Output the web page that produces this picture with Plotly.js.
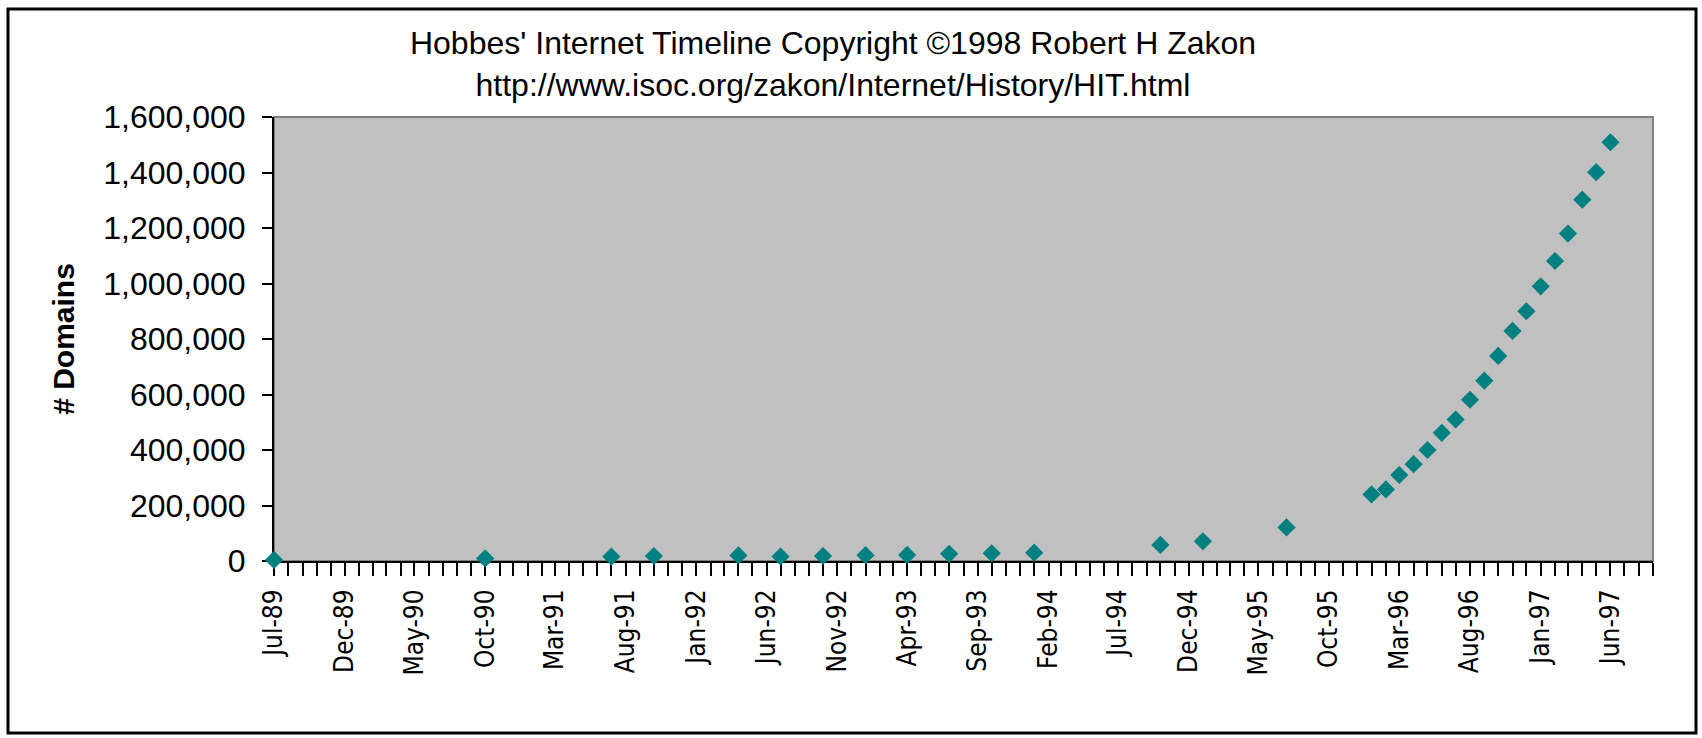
<!DOCTYPE html>
<html>
<head>
<meta charset="utf-8">
<script src="https://cdn.plot.ly/plotly-3.0.1.min.js"></script>
<style>
  html, body { margin: 0; padding: 0; background: #ffffff; }
  #chart { width: 1702px; height: 738px; }
</style>
</head>
<body>
<div id="chart"></div>
<script>
// ---- data ----
const months = [
  '1989-07-01', '1990-10-01', '1991-07-01', '1991-10-01', '1992-04-01',
  '1992-07-01', '1992-10-01', '1993-01-01', '1993-04-01', '1993-07-01',
  '1993-10-01', '1994-01-01', '1994-10-01', '1995-01-01', '1995-07-01',
  '1996-01-01', '1996-02-01', '1996-03-01', '1996-04-01', '1996-05-01',
  '1996-06-01', '1996-07-01', '1996-08-01', '1996-09-01', '1996-10-01',
  '1996-11-01', '1996-12-01', '1997-01-01', '1997-02-01', '1997-03-01',
  '1997-04-01', '1997-05-01', '1997-06-01'
];
const domains = [
  3900, 9300, 16000, 18000, 20000,
  16300, 18100, 21000, 22000, 26000,
  28000, 30000, 58000, 71000, 121000,
  240000, 258000, 310000, 349000, 400000,
  462000, 510000, 581000, 650000, 739000,
  829000, 900000, 990000, 1081000, 1180000,
  1302000, 1401000, 1509000
];
const titleLines = [
  "Hobbes' Internet Timeline Copyright \u00A91998 Robert H Zakon",
  "http://www.isoc.org/zakon/Internet/History/HIT.html"
];
const yAxisTitle = "# Domains";
const xRange = ['1989-07-01', '1997-09-01'];
const yRange = [0, 1600000];

// ---- layout geometry ----
const W = 1702, H = 738;
const M = { l: 274, r: 49, t: 117, b: 177 };
const pw = W - M.l - M.r, ph = H - M.t - M.b;
const px2paperX = x => (x - M.l) / pw;
const px2paperY = y => (H - M.b - y) / ph;

const FONT = '"Liberation Sans", Arial, sans-serif';
const NARROW = '"Liberation Sans Narrow", "Arial Narrow", "DejaVu Sans Condensed", "Liberation Sans", sans-serif';

const trace = {
  type: 'scatter',
  mode: 'markers',
  x: months,
  y: domains,
  cliponaxis: false,
  marker: { symbol: 'diamond', size: 14, color: '#008080', line: { width: 0 } },
  hoverinfo: 'x+y'
};

const layout = {
  width: W, height: H,
  margin: M,
  paper_bgcolor: '#ffffff',
  plot_bgcolor: '#c0c0c0',
  showlegend: false,
  font: { family: FONT, color: '#000000' },
  title: {
    text: titleLines.join('<br>'),
    font: { family: FONT, size: 32, color: '#000000' },
    x: 833 / W, xref: 'container', xanchor: 'center',
    y: 1 - 54 / H, yref: 'container', yanchor: 'top'
  },
  xaxis: {
    type: 'date',
    range: xRange,
    tick0: '1989-07-01',
    dtick: 'M5',
    tickformat: '%b-%y',
    tickangle: -90,
    ticks: 'outside',
    ticklen: 13,
    tickwidth: 2,
    tickcolor: '#000000',
    ticklabelstandoff: 3,
    tickfont: { family: NARROW, size: 26, color: '#000000' },
    minor: { dtick: 'M1', tick0: '1989-07-01', ticks: 'outside', ticklen: 13, tickwidth: 2, tickcolor: '#000000', showgrid: false },
    showgrid: false,
    zeroline: false,
    showline: true,
    linecolor: '#000000',
    linewidth: 2,
    layer: 'below traces',
    fixedrange: true
  },
  yaxis: {
    range: yRange,
    dtick: 200000,
    tickformat: ',d',
    ticks: 'outside',
    ticklen: 10,
    tickwidth: 2,
    tickcolor: '#000000',
    ticklabelstandoff: 10,
    tickfont: { family: FONT, size: 32, color: '#000000' },
    showgrid: false,
    zeroline: false,
    showline: true,
    linecolor: '#000000',
    linewidth: 2,
    layer: 'below traces',
    title: {
      text: '<b>' + yAxisTitle + '</b>',
      font: { family: FONT, size: 30, color: '#000000' },
      standoff: 20
    },
    fixedrange: true
  },
  shapes: [
    // grey plot-area border (top / right)
    { type: 'rect', xref: 'paper', yref: 'paper', x0: 0, x1: 1, y0: 0, y1: 1,
      line: { color: '#808080', width: 2 }, fillcolor: 'rgba(0,0,0,0)', layer: 'below' },
    // outer chart frame
    { type: 'rect', xref: 'paper', yref: 'paper',
      x0: px2paperX(8), x1: px2paperX(1696), y0: px2paperY(733), y1: px2paperY(9),
      line: { color: '#000000', width: 3 }, fillcolor: 'rgba(0,0,0,0)', layer: 'above' }
  ]
};

Plotly.newPlot('chart', [trace], layout, { displayModeBar: false, responsive: false });
</script>
</body>
</html>
